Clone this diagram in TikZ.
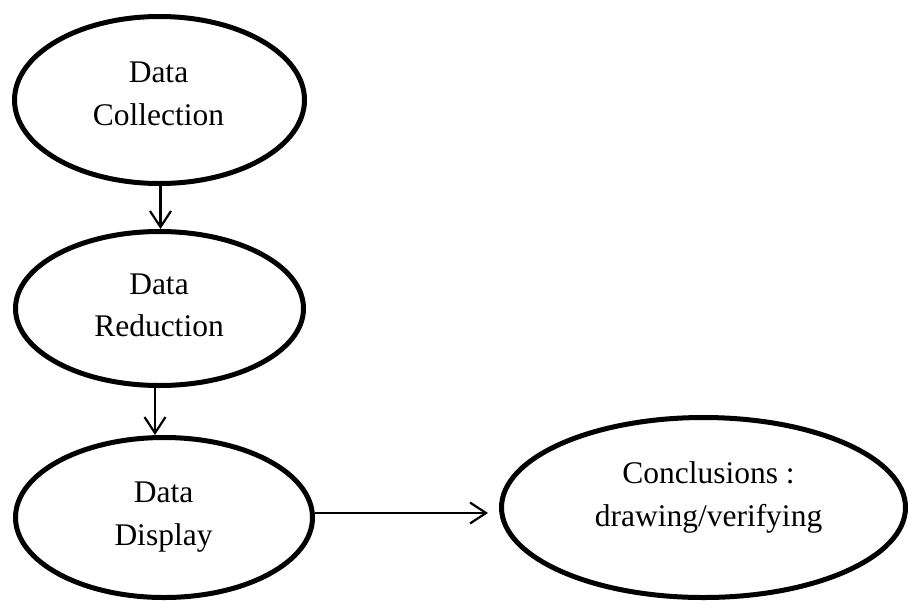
\documentclass[tikz,border=0pt]{standalone}
\usepackage{fontspec}
\setmainfont{Liberation Serif}
\usetikzlibrary{arrows.meta,shapes.geometric}
\begin{document}
\begin{tikzpicture}[x=1pt,y=-1pt,
  ell/.style={draw=black, line width=5pt, ellipse, inner sep=0pt},
  lbl/.style={align=center, inner sep=0pt, anchor=base,
    font=\fontsize{31.5}{42.5}\selectfont},
  arr/.style={line width=2.2pt, -{Straight Barb[length=16pt,width=21pt,line width=2.2pt]}}]
\useasboundingbox (0,0) rectangle (909,603);
\node[ell, minimum width=290pt, minimum height=167pt] (E1) at (159.5,100) {};
\node[ell, minimum width=288pt, minimum height=154pt] (E2) at (159.5,308.5) {};
\node[ell, minimum width=297pt, minimum height=160pt] (E3) at (164,517.5) {};
\node[ell, minimum width=404pt, minimum height=180pt] (E4) at (703.5,507.5) {};
\node[lbl] (t1) at (158.5,125) {Data\\Collection};
\node[lbl] (t2) at (159,336.5) {Data\\Reduction};
\node[lbl] (t3) at (163.5,545) {Data\\Display};
\node[lbl] (t4) at (708.5,526) {Conclusions :\\drawing/verifying};
\coordinate (a3end) at (488,513);
\draw[arr] ([xshift=1pt]E1.south) -- ([xshift=1pt]E1.south |- E2.north);
\draw[arr] ([xshift=-4.5pt]E2.south) -- ([xshift=-4.5pt]E2.south |- E3.north);
\draw[arr] (E3.east |- a3end) -- (a3end);
\end{tikzpicture}
\end{document}
